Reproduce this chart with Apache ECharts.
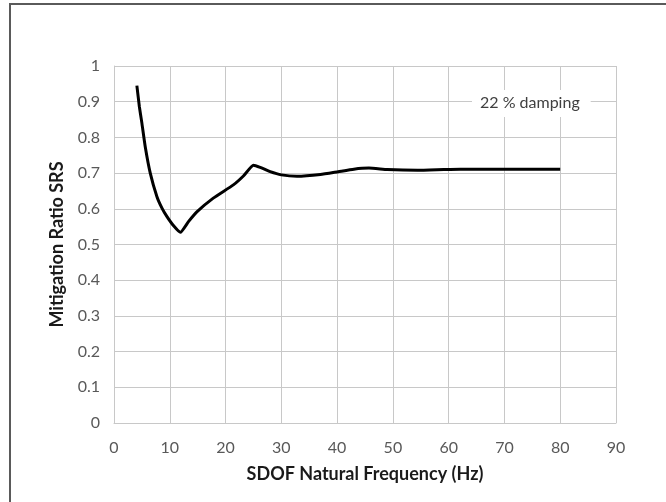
<!DOCTYPE html>
<html>
<head>
<meta charset="utf-8">
<script src="https://cdn.jsdelivr.net/npm/echarts@6/dist/echarts.min.js"></script>
<style>html,body{margin:0;padding:0;background:#fff;}#c{width:666px;height:502px;}</style>
</head>
<body>
<div id="c"></div>
<script>
const frequency = [4.1, 4.55, 5.0, 5.6, 6.5, 7.7, 8.6, 9.5, 10.65, 11.9, 13.35, 14.9, 17.8, 21.4, 23.2, 25.0, 26.2, 28.0, 30.0, 32.8, 37.0, 40.2, 43.0, 45.7, 49.0, 54.4, 59.1, 62.1, 70.0, 80.0];
const mitigationRatio = [0.945, 0.886, 0.840, 0.774, 0.700, 0.634, 0.602, 0.578, 0.553, 0.534, 0.564, 0.592, 0.630, 0.667, 0.692, 0.722, 0.716, 0.704, 0.695, 0.691, 0.696, 0.704, 0.711, 0.714, 0.710, 0.708, 0.710, 0.711, 0.711, 0.711];
const xTicks = [0, 10, 20, 30, 40, 50, 60, 70, 80, 90];
const yTicks = [0, 0.1, 0.2, 0.3, 0.4, 0.5, 0.6, 0.7, 0.8, 0.9, 1];
const xTitle = 'SDOF Natural Frequency (Hz)';
const yTitle = 'Mitigation Ratio SRS';
const note = '22 % damping';

const chart = echarts.init(document.getElementById('c'), null, {renderer: 'canvas'});
const font = 'Lato';
chart.setOption({
  animation: false,
  backgroundColor: '#ffffff',
  grid: {left: 114, right: 50, top: 66, bottom: 79},
  title: {
    text: note, left: 472, top: 90,
    padding: [5, 11, 6, 8],
    backgroundColor: '#ffffff',
    textStyle: {fontFamily: font, fontSize: 16, fontWeight: 'normal', color: '#404040'}
  },
  graphic: [{
    type: 'rect', z: 100, silent: true,
    shape: {x: 10, y: 4, width: 800, height: 700},
    style: {fill: 'none', stroke: '#5a5a5a', lineWidth: 2}
  }],
  xAxis: {
    type: 'value', min: xTicks[0], max: xTicks[xTicks.length - 1], interval: 10,
    name: xTitle, nameLocation: 'middle', nameGap: 42,
    nameTextStyle: {fontFamily: font, fontSize: 18, fontWeight: 'bold', color: '#1a1a1a'},
    axisLine: {show: true, lineStyle: {color: '#c8c8c8', width: 1}},
    axisTick: {show: false},
    axisLabel: {fontFamily: font, fontSize: 16, color: '#595959', margin: 17},
    splitLine: {show: true, lineStyle: {color: '#c8c8c8', width: 1}}
  },
  yAxis: {
    type: 'value', min: yTicks[0], max: yTicks[yTicks.length - 1], interval: 0.1,
    name: yTitle, nameLocation: 'middle', nameGap: 48,
    nameTextStyle: {fontFamily: font, fontSize: 18, fontWeight: 'bold', color: '#1a1a1a'},
    axisLine: {show: true, lineStyle: {color: '#c8c8c8', width: 1}},
    axisTick: {show: false},
    axisLabel: {fontFamily: font, fontSize: 16, color: '#595959', margin: 14,
      formatter: v => String(Math.round(v * 10) / 10)},
    splitLine: {show: true, lineStyle: {color: '#c8c8c8', width: 1}}
  },
  series: [{
    type: 'line',
    data: frequency.map((f, i) => [f, mitigationRatio[i]]),
    smooth: 0.15,
    showSymbol: false,
    lineStyle: {color: '#000000', width: 3},
    z: 5
  }]
});
</script>
</body>
</html>
